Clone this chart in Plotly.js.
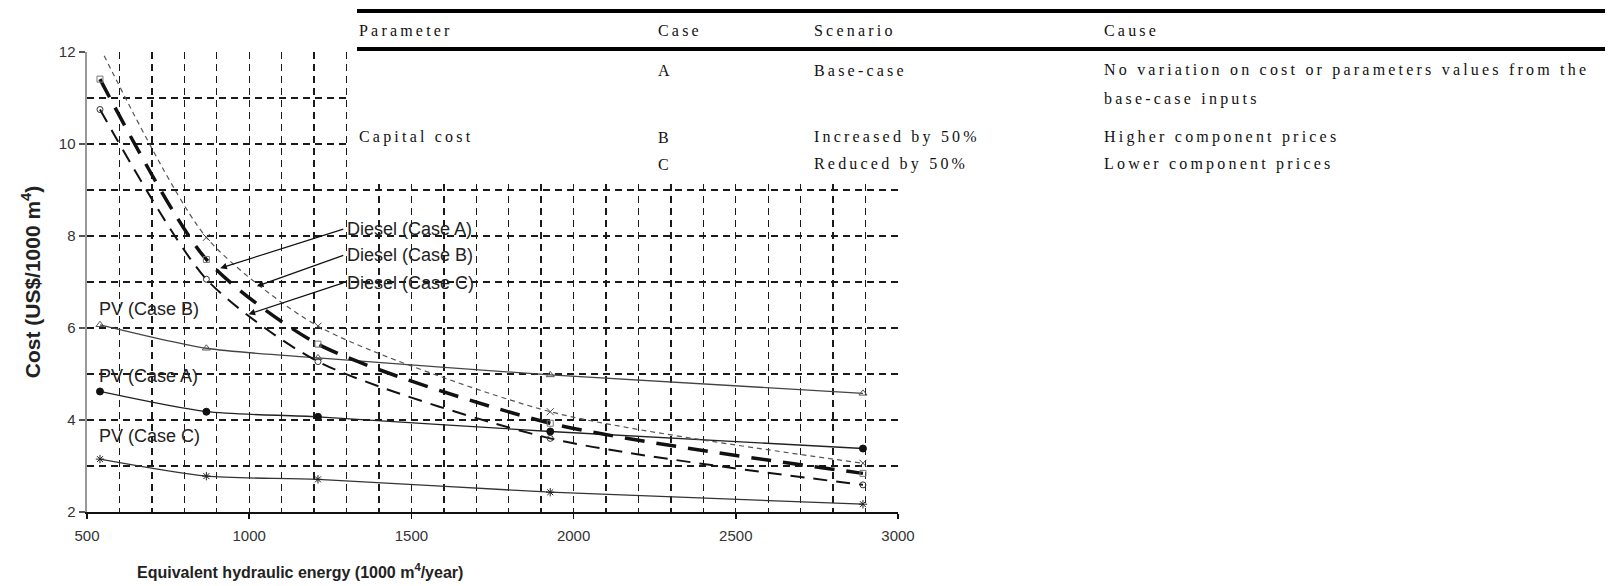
<!DOCTYPE html>
<html>
<head>
<meta charset="utf-8">
<script src="https://cdn.plot.ly/plotly-3.0.1.min.js"></script>
<style>
  html, body { margin: 0; padding: 0; background: #fff; }
  #chart { width: 1614px; height: 586px; }
  text.annotation-text[style*="Liberation Serif"] { letter-spacing: 3.2px; }
</style>
</head>
<body>
<div id="chart"></div>
<script>
// ---- data ----
const energy = [540, 868, 1212, 1928, 2892];
const pvCaseA = [4.62, 4.18, 4.07, 3.75, 3.38];
const pvCaseB = [6.07, 5.56, 5.35, 4.98, 4.58];
const pvCaseC = [3.15, 2.78, 2.71, 2.43, 2.17];
const dieselCaseA = [11.41, 7.49, 5.65, 3.93, 2.84];
const dieselCaseB = [12.1, 7.97, 6.04, 4.18, 3.06];
const dieselCaseC = [10.75, 7.06, 5.27, 3.60, 2.59];

const tableHeader = ["Parameter", "Case", "Scenario", "Cause"];
const tableCases = ["A", "B", "C"];
const tableParameter = ["", "Capital cost", ""];
const tableScenario = ["Base-case", "Increased by 50%", "Reduced by 50%"];
const tableCause = ["No variation on cost or parameters values from the", "Higher component prices", "Lower component prices"];
const tableCauseCont = ["base-case inputs", "", ""];

// ---- layout helpers (pixel -> paper) ----
const W = 1614, H = 586;
const M = { l: 87, r: 716, t: 52, b: 74 };
const PW = W - M.l - M.r, PH = H - M.t - M.b;
const px = v => (v - M.l) / PW;
const py = v => (H - M.b - v) / PH;

const sans = "Liberation Sans, Arial, sans-serif";
const serif = "Liberation Serif, Times New Roman, serif";

function line(name, y, color, width, dash, symbol, msize, mcolor) {
  return {
    type: "scatter", mode: "lines+markers", name: name,
    x: energy, y: y,
    line: { color: color, width: width, dash: dash, shape: "spline", smoothing: 0.7 },
    marker: { symbol: symbol, size: msize, color: mcolor || color, line: { color: mcolor || color, width: 1 } },
    cliponaxis: false, showlegend: false
  };
}

const traces = [
  line("PV (Case B)", pvCaseB, "#444", 1.3, "solid", "triangle-up-open", 7, "#555"),
  line("PV (Case A)", pvCaseA, "#222", 1.3, "solid", "circle", 7, "#111"),
  line("PV (Case C)", pvCaseC, "#333", 1.3, "solid", "asterisk-open", 7, "#222"),
  line("Diesel (Case B)", dieselCaseB, "#555", 1.2, "5px,4px", "x-thin-open", 7, "#444"),
  line("Diesel (Case A)", dieselCaseA, "#111", 3.5, "20px,12px", "square-open", 6, "#777"),
  line("Diesel (Case C)", dieselCaseC, "#111", 2, "14px,9px", "circle-open", 6, "#333")
];

const labelFont = { family: sans, size: 18, color: "#222" };
const annotations = [];
// PV curve labels
const lbl = (t, x, y) => annotations.push({ xref: "x", yref: "y", x: x, y: y, text: t, showarrow: false,
  xanchor: "left", yanchor: "middle", font: labelFont });
lbl("PV (Case B)", 530, 6.42);
lbl("PV (Case A)", 530, 4.96);
lbl("PV (Case C)", 530, 3.66);
// Diesel labels with leader arrows (head on the curve, text at the tail)
const arr = (t, hx, hy, tx, ty) => annotations.push({ xref: "x", yref: "y", axref: "x", ayref: "y",
  x: hx, y: hy, ax: tx, ay: ty, text: t, showarrow: true, arrowhead: 2, arrowsize: 1.1,
  arrowwidth: 1.2, arrowcolor: "#111", xanchor: "left", yanchor: "middle", borderpad: 3, font: labelFont });
arr("Diesel (Case A)", 910.7, 7.30, 1290, 8.15);
arr("Diesel (Case B)", 1023.7, 6.91, 1290, 7.58);
arr("Diesel (Case C)", 997.8, 6.30, 1290, 6.98);

// x-axis title as annotation (offset left like the original)
annotations.push({ xref: "paper", yref: "paper", x: px(300), y: py(571), xanchor: "center", yanchor: "middle",
  showarrow: false, text: "<b>Equivalent hydraulic energy (1000 m<sup>4</sup>/year)</b>",
  font: { family: sans, size: 16, color: "#222" } });

// table
const colX = [357, 656, 812, 1102];
const tabText = (t, x, y) => annotations.push({ xref: "paper", yref: "paper", x: px(x), y: py(y),
  xanchor: "left", yanchor: "middle", showarrow: false, text: t,
  font: { family: serif, size: 16, color: "#111" } });
tableHeader.forEach((h, i) => tabText(h, colX[i], 31));
const rowY = [70, 137, 164];
tableCases.forEach((c, i) => {
  if (tableParameter[i]) tabText(tableParameter[i], colX[0], rowY[i]);
  tabText(c, colX[1], rowY[i]);
  tabText(tableScenario[i], colX[2], rowY[i]);
  tabText(tableCause[i], colX[3], rowY[i]);
  if (tableCauseCont[i]) tabText(tableCauseCont[i], colX[3], rowY[i] + 29);
});

const shapes = [
  { type: "rect", xref: "paper", yref: "paper", x0: px(350), x1: px(1614), y0: py(180), y1: py(0),
    fillcolor: "#fff", line: { width: 0 }, layer: "above" },
  { type: "line", xref: "paper", yref: "paper", x0: px(357), x1: px(1605), y0: py(11), y1: py(11),
    line: { color: "#000", width: 4 } },
  { type: "line", xref: "paper", yref: "paper", x0: px(357), x1: px(1605), y0: py(49), y1: py(49),
    line: { color: "#000", width: 4 } }
];

const gridStyle = { gridcolor: "#1a1a1a", griddash: "7px,5px", gridwidth: 1.4 };

const layout = {
  width: W, height: H,
  margin: M,
  paper_bgcolor: "#fff", plot_bgcolor: "#fff",
  showlegend: false,
  xaxis: Object.assign({
    range: [500, 3000], tick0: 500, dtick: 500, showgrid: true, zeroline: false,
    showline: true, linecolor: "#111", linewidth: 2, mirror: false,
    ticks: "outside", ticklen: 5, tickwidth: 1.5, tickcolor: "#111",
    ticklabelstandoff: 4,
    tickfont: { family: sans, size: 15, color: "#333" },
    minor: Object.assign({ dtick: 100, showgrid: true, ticks: "" }, gridStyle)
  }, gridStyle),
  yaxis: Object.assign({
    range: [2, 12], tick0: 2, dtick: 2, showgrid: true, zeroline: false,
    showline: true, linecolor: "#999", linewidth: 2.5,
    ticks: "outside", ticklen: 6, tickwidth: 1.5, tickcolor: "#555",
    tickfont: { family: sans, size: 15, color: "#333" },
    title: { text: "<b>Cost (US$/1000 m<sup>4</sup>)</b>", font: { family: sans, size: 21, color: "#222" }, standoff: 13 },
    minor: Object.assign({ dtick: 1, showgrid: true, ticks: "" }, gridStyle)
  }, gridStyle),
  annotations: annotations,
  shapes: shapes
};

Plotly.newPlot("chart", traces, layout, { staticPlot: true, displayModeBar: false });
</script>
</body>
</html>
